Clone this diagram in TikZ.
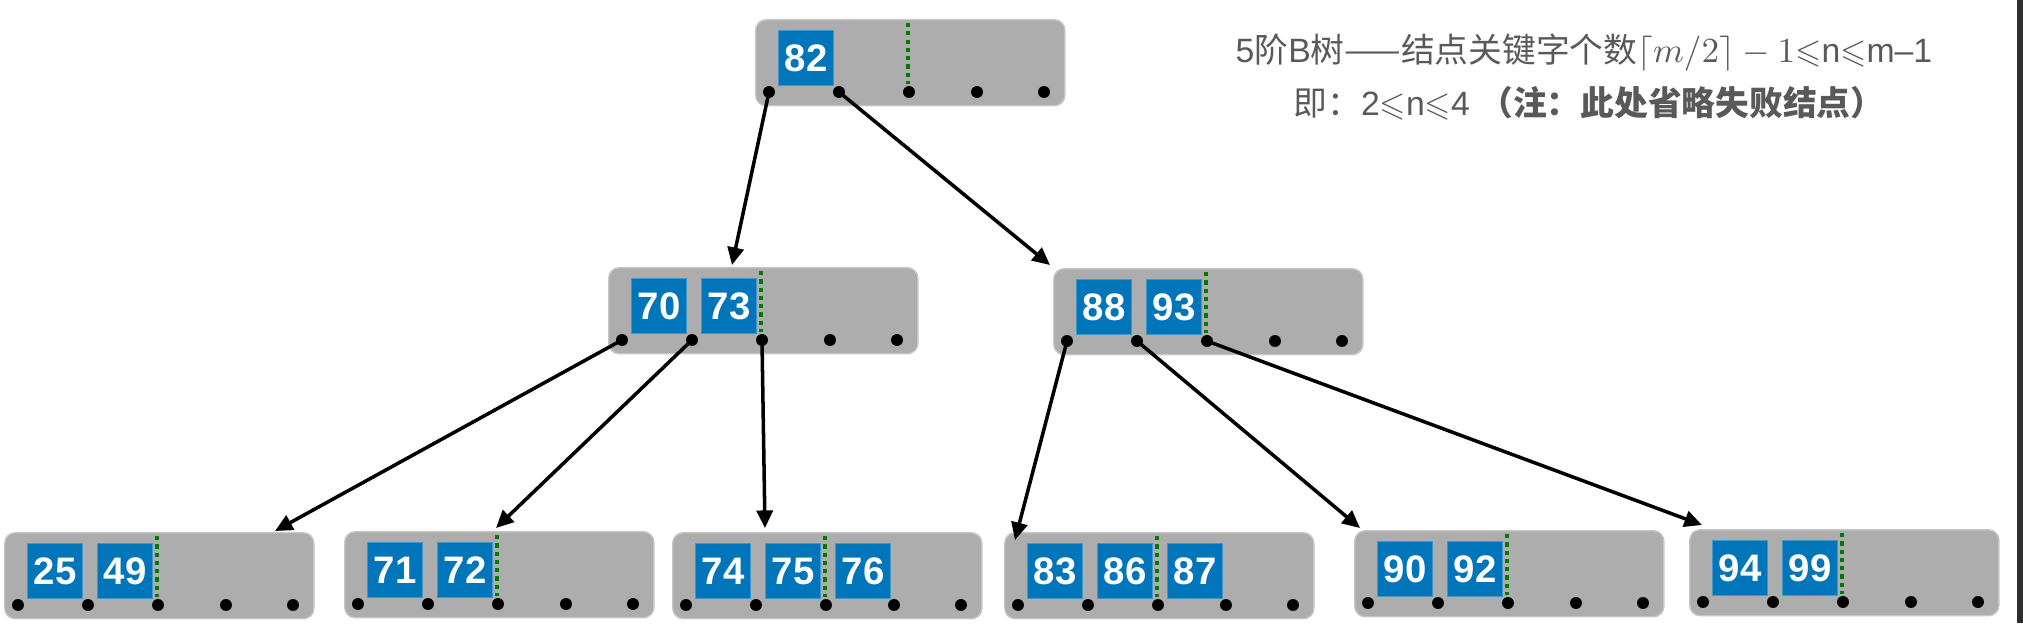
\documentclass[tikz,border=0pt]{standalone}
\usepackage{amsmath, amssymb}
\usepackage{fontspec}
\setmainfont{Liberation Sans}
\newfontfamily\cjk{Noto Sans CJK SC}
\usetikzlibrary{arrows.meta, positioning, calc}
\definecolor{nodeGray}{HTML}{ADADAD}
\definecolor{keyBlue}{HTML}{0075B9}
\definecolor{ptrGreen}{HTML}{007A00}
\definecolor{noteGray}{HTML}{595959}
\definecolor{edgeDark}{HTML}{2E2E2E}

\tikzset{
  bnode/.style={fill=nodeGray, draw=nodeGray!70!white, line width=0.4pt,
    rounded corners=3pt, minimum width=3.09cm, minimum height=0.86cm,
    inner sep=0pt, anchor=north west},
  keybox/.style={fill=keyBlue, draw=keyBlue!75!white, line width=0.3pt,
    minimum size=0.55cm, inner sep=0pt, anchor=north west, text=white,
    font=\fontsize{10.9}{12}\selectfont\bfseries},
  ptr/.style={-{Triangle[length=5pt,width=4.6pt]}, line width=1pt, black},
  note/.style={text=noteGray, anchor=base, inner sep=0pt,
    font=\fontsize{9.6}{15}\selectfont},
}

\begin{document}
\begin{tikzpicture}[x=0.01cm, y=-0.01cm]
  \useasboundingbox (0,0) rectangle (2023,623);
  \fill[edgeDark] (2017,0) rectangle (2023,623);

  % B-tree nodes: name / left / top / keys
  \foreach \nm/\px/\py/\keys in {
    root/755/19/{82},
    m1/608/267/{70,73},
    m2/1053/268/{88,93},
    l1/4/532/{25,49},
    l2/344/531/{71,72},
    l3/672/532/{74,75,76},
    l4/1004/532/{83,86,87},
    l5/1354/530/{90,92},
    l6/1689/529/{94,99}%
  }{
    \begin{scope}[shift={(\px,\py)}]
      \node[bnode] (\nm) at (0,0) {};
      \foreach \k [count=\j] in \keys
        \node[keybox] (\nm-k\j) at ({23+70*(\j-1)},11) {\k};
      \draw[ptrGreen, line width=1.05pt, dash pattern=on 1.2pt off 1.15pt]
        (153,4) -- (153,65);
      \foreach \dx [count=\i] in {14,84,154,222,289}{
        \coordinate (\nm-\i) at (\dx,73);
        \fill (\nm-\i) circle (1.7pt);
      }
    \end{scope}
  }

  \foreach \from/\to/\ox/\oy in {
    root-1/m1/124/-2, root-2/m2/-3/-3,
    m1-1/l1/271/-1, m1-2/l2/152/-3, m1-3/l3/93/-4,
    m2-1/l4/11/8, m2-2/l5/6/-2, m2-3/l6/13/-4
  }
    \draw[ptr] (\from) -- ($(\to.north west)+(\ox,\oy)$);

  \node[note] (note1) at (1584,62)
    {5{\cjk 阶}B{\cjk 树——结点关键字个数}$\lceil m/2\rceil - 1$$\leqslant$n$\leqslant$m–1};
  \node[note] (note2) at (1589,115)
    {{\cjk 即：}2$\leqslant$n$\leqslant$4 {\cjk\bfseries （注：此处省略失败结点）}};
\end{tikzpicture}
\end{document}
